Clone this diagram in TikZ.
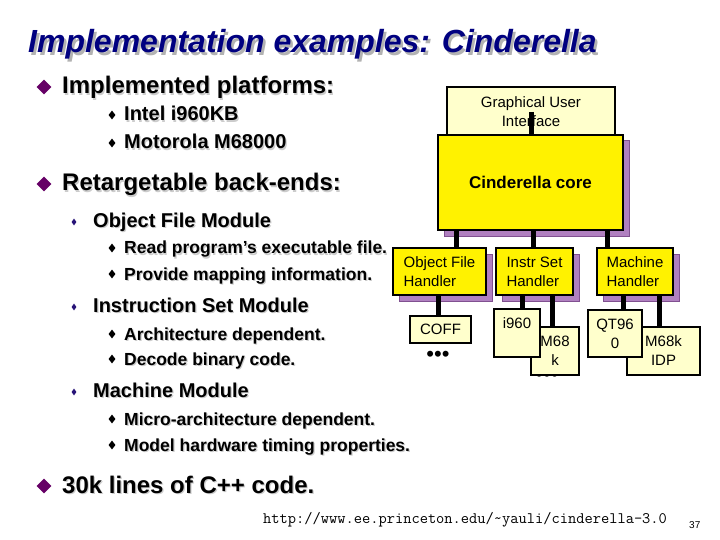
\documentclass[tikz,border=0pt]{standalone}
\usepackage{fontspec}
\setmainfont{Liberation Sans}
\usetikzlibrary{shapes.geometric,shadows,positioning}

\definecolor{titleblue}{RGB}{0,0,128}
\definecolor{bulletpurple}{RGB}{102,0,102}
\definecolor{bulletnavy}{RGB}{40,20,120}
\definecolor{paleyellow}{RGB}{255,255,204}
\definecolor{shfill}{RGB}{176,128,192}
\definecolor{shline}{RGB}{128,80,144}

% text with a soft drop shadow
\newcommand{\shtxt}[1]{\makebox[0pt][l]{\color{gray!40}\hspace{1.2pt}\raisebox{-1.2pt}{#1}}#1}
\newcommand{\shtitle}[1]{\makebox[0pt][l]{\color{gray!60}\hspace{2.5pt}\raisebox{-2.5pt}{#1}}#1}

\tikzset{
  lvA/.style={anchor=base west,inner sep=0pt,font=\fontsize{24}{28}\selectfont\bfseries},
  lvB/.style={anchor=base west,inner sep=0pt,font=\fontsize{20}{24}\selectfont\bfseries},
  lvC/.style={anchor=base west,inner sep=0pt,font=\fontsize{17.5}{21}\selectfont\bfseries},
  dmA/.style={diamond,fill=bulletpurple,inner sep=0pt,minimum width=15pt,minimum height=15pt},
  dmB/.style={diamond,fill=bulletnavy,inner sep=0pt,minimum width=5pt,minimum height=7pt},
  dmC/.style={diamond,fill=black,inner sep=0pt,minimum width=7pt,minimum height=9pt},
  corebox/.style={draw=black,line width=1.5pt,fill=yellow,inner sep=0pt,
    font=\fontsize{15}{19}\selectfont,
    general shadow={fill=shfill,draw=shline,line width=1pt,shadow xshift=6pt,shadow yshift=-6pt}},
  subbox/.style={draw=black,line width=1.5pt,fill=paleyellow,inner sep=0pt,align=center,
    font=\fontsize{15}{19}\selectfont},
  moredots/.style={inner sep=0pt,font=\fontsize{22}{22}\selectfont},
  link/.style={line width=5pt},
}

\begin{document}
\begin{tikzpicture}[x=1pt,y=-1pt]
  \fill[white] (0,0) rectangle (720,540);
  \useasboundingbox (0,0) rectangle (720,540);

  % title
  \node[anchor=base west,inner sep=0pt,text=titleblue,
    font=\fontsize{32}{36}\selectfont\bfseries\itshape] (title) at (28,53)
    {\shtitle{Implementation examples: Cinderella}};

  % bullet list
  \foreach \y/\t in {94/Implemented platforms:,191/Retargetable back-ends:,493/30k lines of C++ code.} {
    \node[dmA] (ba-\y) at (44,{\y-7}) {};
    \node[lvA] (la-\y) at (62,\y) {\shtxt{\t}};
  }
  \foreach \y/\t in {227/Object File Module,312/Instruction Set Module,397/Machine Module} {
    \node[dmB] (bb-\y) at (74,{\y-5}) {};
    \node[lvB] (lb-\y) at (93,\y) {\shtxt{\t}};
  }
  \foreach \y/\t in {121/Intel i960KB,149/Motorola M68000} {
    \node[dmC] (bp-\y) at (112,{\y-6}) {};
    \node[lvB] (lp-\y) at (124,\y) {\shtxt{\t}};
  }
  \foreach \y/\t in {254/Read program’s executable file.,280/Provide mapping information.,
                     340/Architecture dependent.,365/Decode binary code.,
                     425/Micro-architecture dependent.,451/Model hardware timing properties.} {
    \node[dmC] (bc-\y) at (112,{\y-6}) {};
    \node[lvC] (lc-\y) at (124,\y) {\shtxt{\t}};
  }

  % block diagram
  \node[subbox,minimum width=168pt,minimum height=50pt] (gui) at (531,112) {Graphical User\\Interface};
  \node[corebox,minimum width=185pt,minimum height=95pt,
    font=\fontsize{17}{20}\selectfont\bfseries] (core) at (530.5,182.5) {Cinderella core};

  \node[corebox,minimum width=93pt,minimum height=47pt,align=left] (ofh) at (439.5,271.5) {Object File\\Handler};
  \node[corebox,minimum width=77pt,minimum height=47pt,align=left] (ish) at (534.5,271.5) {Instr Set\\Handler};
  \node[corebox,minimum width=76pt,minimum height=47pt,align=left] (mch) at (635,271.5) {Machine\\Handler};

  \node[subbox,minimum width=61pt,minimum height=27pt] (coff) at (440.5,329.5) {COFF};
  \node[moredots] (coffdots) at (438,356) {•••};

  \node[moredots] (isadots) at (547,376) {•••};
  \node[subbox,minimum width=48pt,minimum height=48pt] (m68a) at (555,351) {M68\\k};
  \node[subbox,minimum width=46pt,minimum height=48pt] (i960) at (517,333) {i960\\\mbox{}};

  \node[moredots] (mchdots) at (641,375) {•••};
  \node[subbox,minimum width=73pt,minimum height=48pt] (idp) at (663.5,351) {M68k\\IDP};
  \node[subbox,minimum width=54pt,minimum height=47pt] (qt) at (615,333.5) {QT96\\0};

  % connectors
  \draw[link] (gui.center) -- (gui.center |- core.north);
  \draw[link] ([xshift=16.5pt]ofh.north) -- ([xshift=16.5pt]ofh.north |- core.south);
  \draw[link] ([xshift=-1.5pt]ish.north) -- ([xshift=-1.5pt]ish.north |- core.south);
  \draw[link] ([xshift=-28pt]mch.north) -- ([xshift=-28pt]mch.north |- core.south);
  \draw[link] ([xshift=-2.5pt]coff.north) -- ([xshift=-2.5pt]coff.north |- ofh.south);
  \draw[link] ([xshift=5pt]i960.north) -- ([xshift=5pt]i960.north |- ish.south);
  \draw[link] ([xshift=-3pt]m68a.north) -- ([xshift=-3pt]m68a.north |- ish.south);
  \draw[link] ([xshift=8pt]qt.north) -- ([xshift=8pt]qt.north |- mch.south);
  \draw[link] ([xshift=-4.5pt]idp.north) -- ([xshift=-4.5pt]idp.north |- mch.south);

  % footer
  \node[anchor=base west,inner sep=0pt,font=\fontsize{16}{16}\selectfont\ttfamily] (url) at (263,523)
    {http://www.ee.princeton.edu/\textasciitilde yauli/cinderella-3.0};
  \node[anchor=base west,inner sep=0pt,font=\fontsize{10}{10}\selectfont] (pageno) at (689,528) {37};
\end{tikzpicture}
\end{document}
